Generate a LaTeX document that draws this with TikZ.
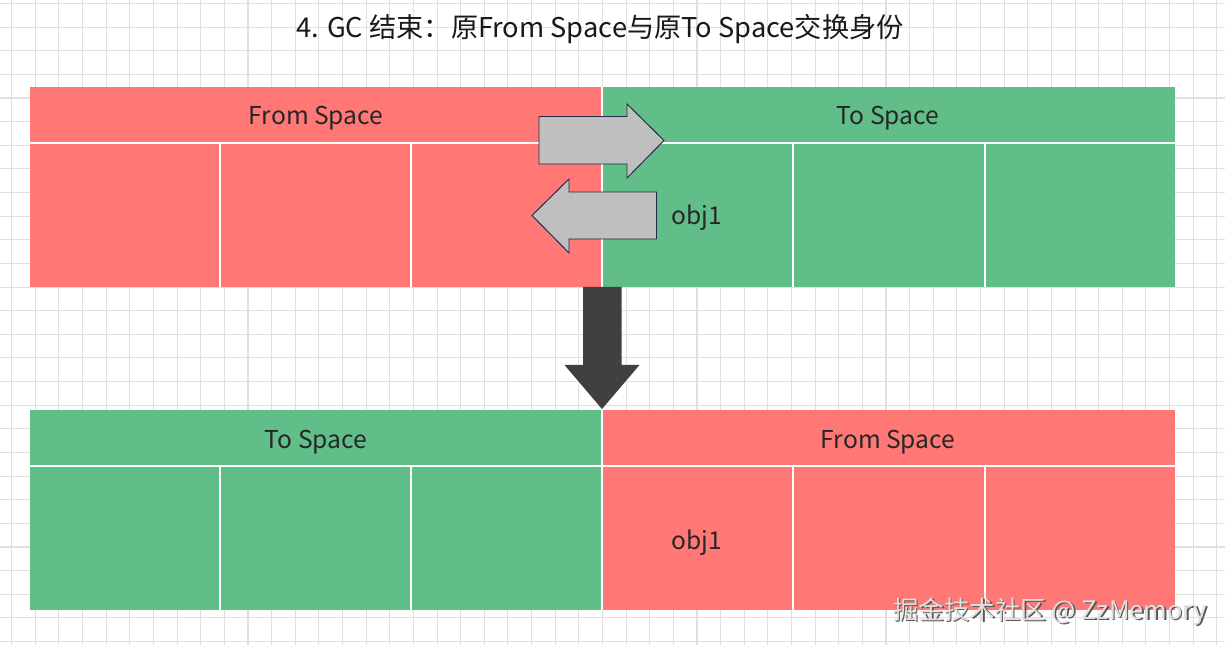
\documentclass[tikz,border=0pt]{standalone}
\usepackage{fontspec}
\setmainfont{Noto Sans CJK SC}
\definecolor{fromred}{HTML}{FF7875}
\definecolor{togreen}{HTML}{62BE89}
\definecolor{arrowgray}{HTML}{BFBFBF}
\definecolor{arrowedge}{HTML}{1F2A44}
\definecolor{downgray}{HTML}{404040}
\definecolor{gridgray}{HTML}{E0E0E0}
\tikzset{
  gridline/.style={draw=gridgray, line width=0.6pt},
  cellline/.style={draw=white, line width=0.6pt},
  spacelabel/.style={text=black!85, font=\fontsize{14}{16}\selectfont},
  swaparrow/.style={fill=arrowgray, draw=arrowedge, line width=0.55pt, line join=miter},
  downarrow/.style={fill=downgray},
}
\begin{document}
\begin{tikzpicture}[x=0.02cm, y=-0.02cm]
  \useasboundingbox (0,0) rectangle (1225,645);
  \fill[white] (0,0) rectangle (1225,645);

  % background grid
  \foreach \gx in {0,...,51}
    \draw[gridline] ({11.7+23.63*\gx},0) -- ++(0,645);
  \foreach \gy in {0,...,27}
    \draw[gridline] (0,{3.5+23.63*\gy}) -- ++(1225,0);

  \node[name=title, text=black!90, font=\fontsize{15.5}{18}\selectfont] at (600,29) {4. GC 结束：原From Space与原To Space交换身份};

  % top: before swap
  \fill[fromred] (30,87) rectangle (602,287);
  \fill[togreen] (602,87) rectangle (1175,287);
  \draw[cellline] (30,143) -- (1175,143);
  \foreach \cx in {220,411,793,985}
    \draw[cellline] (\cx,143) -- (\cx,287);
  \draw[cellline] (602,87) -- (602,287);
  \node[name=fromtop, spacelabel] at (316,118) {From Space};
  \node[name=totop, spacelabel] at (888,118) {To Space};
  \node[name=objtop, spacelabel] at (697,218) {obj1};

  % swap arrows
  \draw[swaparrow] (539,116.5) -- (627,116.5) -- (627,104) -- (664,140.5)
    -- (627,178) -- (627,164) -- (539,164) -- cycle;
  \draw[swaparrow] (656.5,192) -- (569,192) -- (569,179) -- (532,215.5)
    -- (569,253) -- (569,239) -- (656.5,239) -- cycle;

  % bottom: after swap
  \fill[togreen] (30,410) rectangle (602,610);
  \fill[fromred] (602,410) rectangle (1175,610);
  \draw[cellline] (30,466) -- (1175,466);
  \foreach \cx in {220,411,793,985}
    \draw[cellline] (\cx,466) -- (\cx,610);
  \draw[cellline] (602,410) -- (602,610);
  \node[name=tobot, spacelabel] at (316,442) {To Space};
  \node[name=frombot, spacelabel] at (888,442) {From Space};
  \node[name=objbot, spacelabel] at (697,543) {obj1};

  % down arrow
  \fill[downarrow] (583,287) -- (621.5,287) -- (621.5,365) -- (639.5,365)
    -- (602,409) -- (564.5,365) -- (583,365) -- cycle;

  % watermark
  \node[name=wmshadow, text=black!65, font=\fontsize{14.5}{17}\selectfont] at (1051.5,613) {掘金技术社区 @ ZzMemory};
  \node[name=wmark, text=black!12, font=\fontsize{14.5}{17}\selectfont] at (1050,611.5) {掘金技术社区 @ ZzMemory};
\end{tikzpicture}
\end{document}
